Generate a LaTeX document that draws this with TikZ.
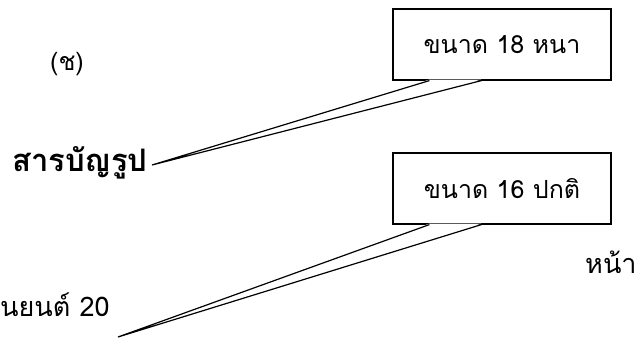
\documentclass[tikz,border=0pt]{standalone}
\usepackage{fontspec}
\newfontfamily\thaifont[Script=Thai]{Loma}
\usetikzlibrary{calc}
\tikzstyle{callbox} = [rectangle, draw=black, line width=1.2pt, minimum width=218pt, minimum height=71pt, text centered, font=\thaifont\fontsize{25}{30}\selectfont]
\tikzstyle{plain} = [inner sep=0pt, font=\thaifont\fontsize{27}{32}\selectfont]
\tikzstyle{pointer} = [line width=1.2pt]

\begin{document}
\begin{tikzpicture}[x=1pt, y=-1pt]
\useasboundingbox (0,0) rectangle (637,339);

\node (fig) [plain, font=\thaifont\fontsize{25}{30}\selectfont] at (67,64) {(ช)};
\node (toc) [plain, anchor=base west, font=\thaifont\bfseries\fontsize{31}{36}\selectfont] at (12,172) {สารบัญรูป};
\node (size18) [callbox] at (502,44.5) {ขนาด 18 หนา};
\node (size16) [callbox] at (502,188.5) {ขนาด 16 ปกติ};
\node (page) [plain, anchor=base west] at (585,273) {หน้า};
\node (item) [plain, anchor=base west] at (0,316) {นยนต์ 20};

\coordinate (tip18) at (152,165);
\coordinate (tip16) at (118,337);

\fill [white] ($(size18.south west)+(37,-1)$) -- (tip18) -- ($(size18.south west)+(89,-1)$) -- cycle;
\draw [pointer] ($(size18.south west)+(37,0)$) -- (tip18) -- ($(size18.south west)+(89,0)$);
\fill [white] ($(size16.south west)+(37,-1)$) -- (tip16) -- ($(size16.south west)+(89,-1)$) -- cycle;
\draw [pointer] ($(size16.south west)+(37,0)$) -- (tip16) -- ($(size16.south west)+(89,0)$);

\end{tikzpicture}
\end{document}
